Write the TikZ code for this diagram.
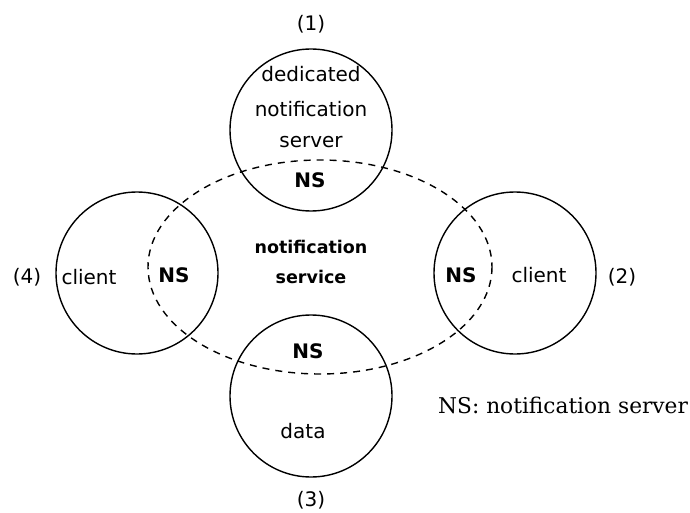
\documentclass[tikz,border=0pt]{standalone}
\usepackage{fontspec}
\setmainfont{DejaVu Sans}
\newfontfamily\legendfont{DejaVu Serif}
\begin{document}
\begin{tikzpicture}[x=1pt,y=-1pt,
  part/.style={draw, line width=1.4pt, circle, minimum size=162pt, inner sep=0pt},
  service/.style={draw, line width=1.4pt, dash pattern=on 7pt off 6pt},
  lbl/.style={anchor=base, inner sep=0pt, font=\fontsize{20}{24}\selectfont},
  nslbl/.style={anchor=base, inner sep=0pt, font=\fontsize{20}{24}\selectfont\bfseries},
  title/.style={anchor=base, inner sep=0pt, font=\fontsize{17.5}{21}\selectfont\bfseries},
  num/.style={anchor=base, inner sep=0pt, font=\fontsize{20}{24}\selectfont}]
\useasboundingbox (0,0) rectangle (690,513);
% the four parties
\node[part] (server) at (311,130) {};
\node[part] (left)   at (137,273) {};
\node[part] (right)  at (515,273) {};
\node[part] (data)   at (311,396) {};
% the notification service spanning them
\draw[service] (320,267) ellipse [x radius=172, y radius=107];
% labels of the dedicated server
\node[num] (n1) at (311,31) {(1)};
\node[lbl] (s1) at (311,82) {dedicated};
\node[lbl] (s2) at (311,117) {notification};
\node[lbl] (s3) at (311,148) {server};
\node[nslbl] (nsTop) at (310,187) {NS};
% left client
\node[num] (n4) at (27,283) {(4)};
\node[lbl] (c4) at (89,284) {client};
\node[nslbl] (nsLeft) at (174,282) {NS};
% right client
\node[nslbl] (nsRight) at (461,282) {NS};
\node[lbl] (c2) at (539,282) {client};
\node[num] (n2) at (622,283) {(2)};
% service name
\node[title] (t1) at (311,253) {notification};
\node[title] (t2) at (311,283) {service};
% data
\node[nslbl] (nsBottom) at (308,358) {NS};
\node[lbl] (d3) at (303,438) {data};
\node[num] (n3) at (311,506) {(3)};
% legend
\node[anchor=base west, inner sep=0pt, font=\legendfont\fontsize{21.7}{26}\selectfont] (legend) at (438,413) {NS: notification server};
\end{tikzpicture}
\end{document}
